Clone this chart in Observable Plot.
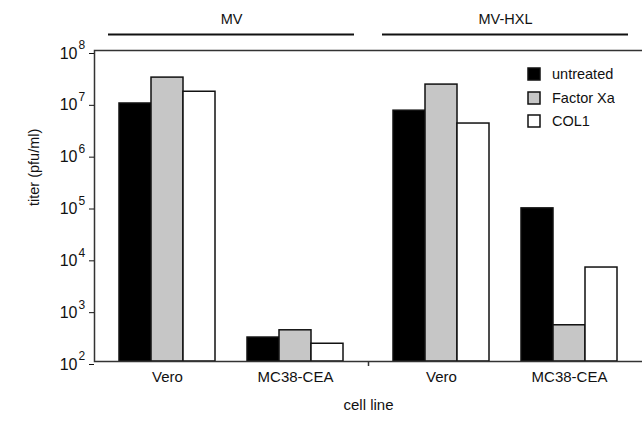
<!DOCTYPE html>
<html><head><meta charset="utf-8">
<script src="https://cdn.jsdelivr.net/npm/d3@7"></script>
<script src="https://cdn.jsdelivr.net/npm/@observablehq/plot@0.6"></script>
<style>
html,body{margin:0;padding:0;background:#fff;overflow:hidden}
#wrap{position:relative;width:642px;height:422px;font-family:"Liberation Sans",Arial,sans-serif}
#legend{position:absolute;left:528px;top:63px}
.lg-swatch{height:22.5px}
.lg-swatch > svg{margin-right:12px !important}
.lg-swatch svg rect{stroke:#111;stroke-width:1.5px}
</style></head><body><div id="wrap"><div id="legend"></div></div>
<script>
// categories
const viruses = ["MV", "MV-HXL"];
const cellLines = ["Vero", "MC38-CEA"];
const treatments = ["untreated", "Factor Xa", "COL1"];
const treatmentColors = ["#000000", "#c6c6c6", "#ffffff"];
// values (pfu/ml), order: MV-Vero, MV-MC38-CEA, MV-HXL-Vero, MV-HXL-MC38-CEA
const untreated = [9.5e6, 290, 6.9e6, 9.0e4];
const factorXa  = [3.0e7, 400, 2.2e7, 500];
const col1      = [1.6e7, 220, 3.9e6, 6.5e3];
// y ticks
const yTicks = [1e2, 1e3, 1e4, 1e5, 1e6, 1e7, 1e8];
const yLabel = "titer (pfu/ml)";
const xLabel = "cell line";

const series = [untreated, factorXa, col1];
const data = [];
viruses.forEach((v, vi) => cellLines.forEach((c, ci) => treatments.forEach((t, ti) => {
  data.push({virus: v, cell: c, treatment: t, key: c + "|" + t, value: series[ti][vi * 2 + ci]});
})));
const xDomain = [];
cellLines.forEach((c, ci) => {
  if (ci > 0) xDomain.push("gap");
  treatments.forEach(t => xDomain.push(c + "|" + t));
});
const labelKeys = cellLines.map(c => c + "|" + treatments[1]);

const W = 642, H = 422, mT = 50, mB = 61, mL = 93, mR = 0;
const chart = Plot.plot({
  width: W, height: H,
  marginTop: mT, marginBottom: mB, marginLeft: mL, marginRight: mR,
  style: {fontFamily: "Liberation Sans, Arial, sans-serif", fontSize: "14px", color: "#111", background: "#fff"},
  fx: {domain: viruses, padding: 0, axis: null},
  x: {domain: xDomain, paddingInner: 0, paddingOuter: 0.7, axis: null},
  y: {type: "log", domain: [yTicks[0], yTicks[yTicks.length - 1]], axis: null},
  color: {domain: treatments, range: treatmentColors},
  marks: [
    Plot.barY(data, {fx: "virus", x: "key", y1: yTicks[0], y2: "value", fill: "treatment", stroke: "#111", strokeWidth: 1.5}),
    Plot.frame({facet: "super", insetRight: -3, stroke: "#333", strokeWidth: 1.5}),
    Plot.ruleX([0], {x: null, facet: "super", insetTop: H - mT - mB, insetBottom: -5, stroke: "#333", strokeWidth: 1.5}),
    Plot.axisY({ticks: yTicks, tickFormat: () => "10", tickSize: 5, tickPadding: 12, fontSize: 16, dy: 3, label: null}),
    Plot.text(yTicks, {facetAnchor: "left", y: d => d, text: d => String(Math.round(Math.log10(d))), frameAnchor: "left", dx: -16, dy: -5, textAnchor: "start", fontSize: 12}),
    Plot.axisX({ticks: labelKeys, tickFormat: k => k.split("|")[0], tickSize: 0, tickPadding: 10, fontSize: 15, label: null}),
    Plot.text(viruses, {fx: d => d, text: d => d, frameAnchor: "top", dy: -37, fontSize: 14.5}),
    Plot.ruleY([yTicks[yTicks.length - 1]], {dy: -16, insetLeft: 14, insetRight: 14, stroke: "#111", strokeWidth: 2}),
    Plot.text([xLabel], {facet: "super", text: d => d, frameAnchor: "bottom", dy: 48, fontSize: 15}),
    Plot.text([yLabel], {facet: "super", text: d => d, frameAnchor: "left", dx: -60, rotate: -90, fontSize: 14.5})
  ]
});
document.getElementById("wrap").prepend(chart);

const legend = Plot.legend({
  color: {domain: treatments, range: treatmentColors},
  columns: 1, swatchSize: 12, className: "lg",
  style: {fontFamily: "Liberation Sans, Arial, sans-serif", fontSize: "14.5px", color: "#111"}
});
document.getElementById("legend").append(legend);
</script></body></html>
